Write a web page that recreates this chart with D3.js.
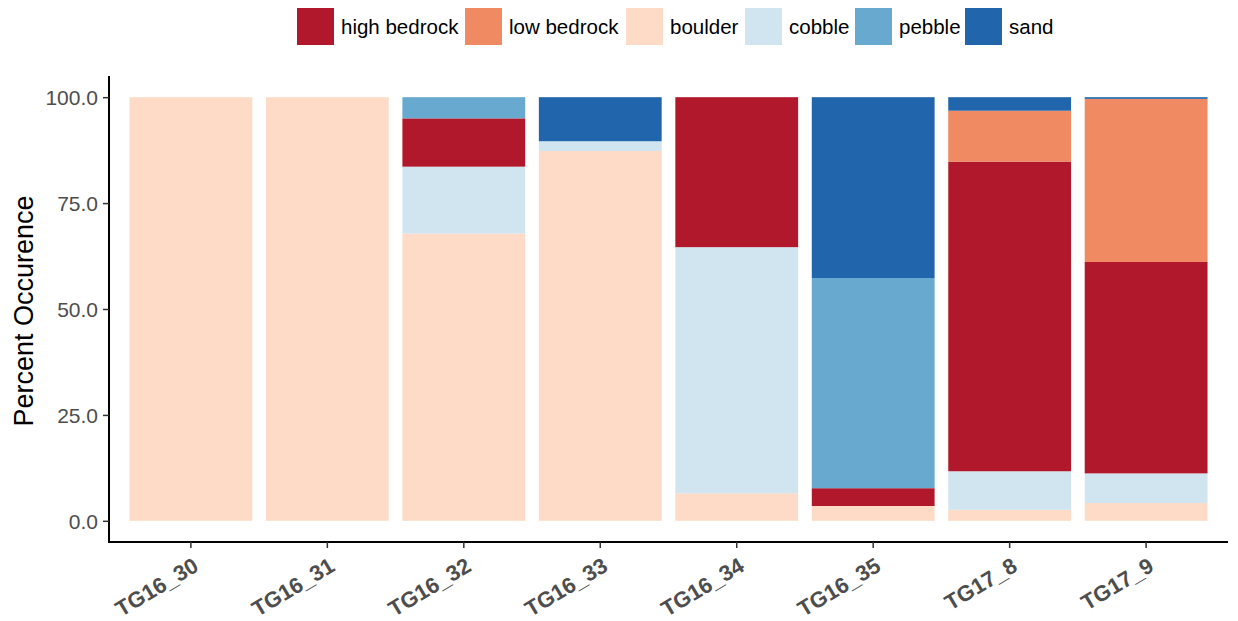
<!DOCTYPE html>
<html><head><meta charset="utf-8">
<script src="https://cdn.jsdelivr.net/npm/d3@7"></script>
<style>body{margin:0;background:#fff;}svg{display:block;font-family:"Liberation Sans",Arial,sans-serif;}</style>
</head><body>
<svg id="chart" width="1238" height="621"></svg>
<script>
const categories = ["TG16_30","TG16_31","TG16_32","TG16_33","TG16_34","TG16_35","TG17_8","TG17_9"];
const legendOrder = ["high bedrock","low bedrock","boulder","cobble","pebble","sand"];
const stackOrder = ["boulder","cobble","high bedrock","low bedrock","pebble","sand"];
const colors = ["#B2182B","#EF8A62","#FDDBC7","#D1E5F0","#67A9CF","#2166AC"];
const highBedrock = [0, 0, 11.4, 0, 35.4, 4.2, 73.1, 49.9];
const lowBedrock  = [0, 0, 0, 0, 0, 0, 12.0, 38.5];
const boulder     = [100, 100, 67.8, 87.3, 6.5, 3.5, 2.6, 4.2];
const cobble      = [0, 0, 15.8, 2.3, 58.1, 0, 9.1, 7.0];
const pebble      = [0, 0, 5.0, 0, 0, 49.6, 0, 0];
const sand        = [0, 0, 0, 10.4, 0, 42.7, 3.2, 0.4];
const yTicks = [0, 25, 50, 75, 100];
const yTitle = "Percent Occurence";

const seriesVals = {"high bedrock":highBedrock,"low bedrock":lowBedrock,"boulder":boulder,"cobble":cobble,"pebble":pebble,"sand":sand};
const rows = categories.map((c,i)=>{const r={cat:c}; legendOrder.forEach(k=>r[k]=seriesVals[k][i]); return r;});

const svg = d3.select("#chart");
const L=109, R=1228, T=76, B=542;
const x = d3.scaleBand().domain(categories).range([L,R]).paddingInner(0.1).paddingOuter(0.15);
const y = d3.scaleLinear().domain([-5,105]).range([B,T]);
const color = d3.scaleOrdinal().domain(legendOrder).range(colors);

const stack = d3.stack().keys(stackOrder)(rows);
svg.append("g").selectAll("g").data(stack).join("g")
  .attr("fill", d=>color(d.key))
  .selectAll("rect").data(d=>d).join("rect")
  .attr("x", d=>x(d.data.cat))
  .attr("width", x.bandwidth())
  .attr("y", d=>y(d[1]))
  .attr("height", d=>Math.max(0, y(d[0])-y(d[1])));

// Y axis
const ya = svg.append("g").attr("transform",`translate(${L},0)`)
  .call(d3.axisLeft(y).tickValues(yTicks).tickFormat(d3.format(".1f")).tickSize(6).tickPadding(5));
ya.select(".domain").attr("d",`M0,${T}V${B+0.5}`).attr("stroke","#000").attr("stroke-width",2);
ya.selectAll(".tick line").attr("stroke","#333").attr("stroke-width",1.5);
ya.selectAll(".tick text").attr("fill","#4D4D4D").attr("font-size",21).attr("dy","0.35em");

// X axis
const xa = svg.append("g").attr("transform",`translate(0,${B})`)
  .call(d3.axisBottom(x).tickSize(6).tickPadding(4));
xa.select(".domain").attr("d",`M${L-1},0H${R}`).attr("stroke","#000").attr("stroke-width",2);
xa.selectAll(".tick line").attr("stroke","#333").attr("stroke-width",1.5);
xa.selectAll(".tick text").attr("fill","#4D4D4D").attr("font-size",22).attr("font-weight","bold")
  .attr("text-anchor","end").attr("dy",0).attr("y",0)
  .attr("transform","translate(9,28) rotate(-31)");

// Y title
svg.append("text").attr("transform",`translate(33,${(T+B)/2+2}) rotate(-90)`)
  .attr("text-anchor","middle").attr("font-size",27).attr("fill","#000").text(yTitle);

// Legend
const legendX = [297, 465, 626, 745, 855, 965];
const lg = svg.append("g");
legendOrder.forEach((k,i)=>{
  const g = lg.append("g").attr("transform",`translate(${legendX[i]},8)`);
  g.append("rect").attr("width",37).attr("height",37).attr("fill",color(k));
  g.append("text").attr("x",44).attr("y",19).attr("dy","0.35em").attr("font-size",20.5).attr("fill","#000").text(k);
});
</script>
</body></html>
